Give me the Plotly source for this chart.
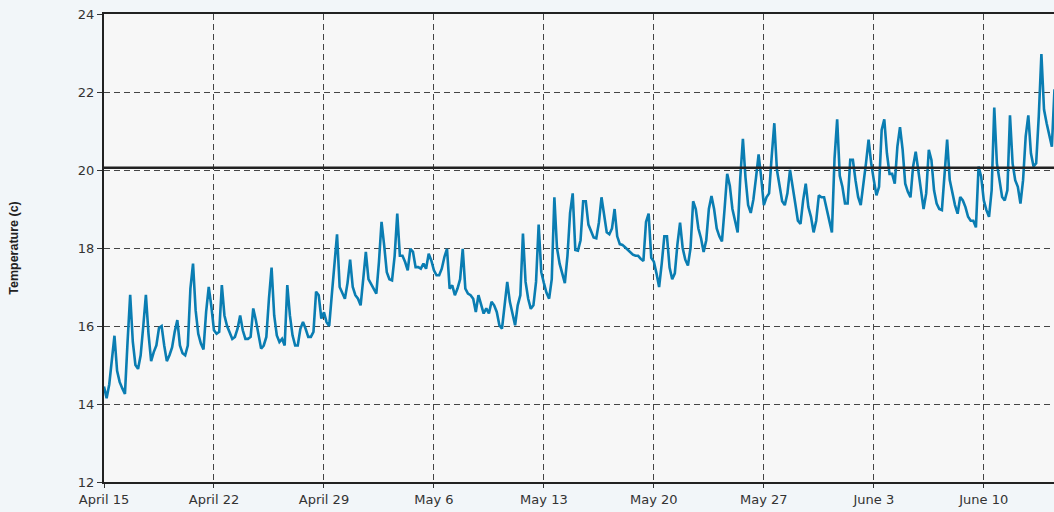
import pandas as pd
import plotly.graph_objects as go

# odczyty co 4 godziny (6 na dobe), od 15 kwietnia
week1 = [14.45, 14.15, 14.5, 15.05, 15.75, 14.85,
         14.56, 14.4, 14.26, 15.6, 16.8, 15.6,
         15.0, 14.9, 15.25, 16.0, 16.8, 15.8,
         15.1, 15.33, 15.5, 15.95, 16.0, 15.5,
         15.1, 15.25, 15.45, 15.85, 16.15, 15.5,
         15.3, 15.25, 15.5, 16.96, 17.6, 16.4,
         15.8, 15.55, 15.4, 16.36, 17.0, 16.5]
week2 = [15.89, 15.8, 15.85, 17.05, 16.27, 16.0,
         15.85, 15.67, 15.72, 15.93, 16.27, 15.89,
         15.67, 15.67, 15.72, 16.45, 16.15, 15.8,
         15.42, 15.5, 15.72, 16.7, 17.5, 16.27,
         15.76, 15.59, 15.67, 15.5, 17.05, 16.27,
         15.76, 15.5, 15.5, 15.93, 16.1, 15.93,
         15.72, 15.72, 15.85, 16.88, 16.79, 16.19]
week3 = [16.35, 16.1, 16.0, 16.8, 17.6, 18.35,
         17.0, 16.83, 16.7, 17.1, 17.7, 17.0,
         16.79, 16.7, 16.53, 17.2, 17.9, 17.2,
         17.08, 16.96, 16.83, 17.64, 18.67, 18.07,
         17.38, 17.2, 17.17, 17.8, 18.88, 17.8,
         17.8, 17.64, 17.43, 17.98, 17.9, 17.51,
         17.51, 17.47, 17.6, 17.47, 17.85, 17.68]
week4 = [17.43, 17.3, 17.3, 17.47, 17.77, 17.98,
         16.96, 17.04, 16.79, 16.96, 17.2, 17.98,
         16.96, 16.83, 16.79, 16.7, 16.36, 16.79,
         16.53, 16.32, 16.45, 16.32, 16.62, 16.53,
         16.36, 16.02, 15.93, 16.53, 17.13, 16.62,
         16.27, 16.02, 16.53, 16.79, 18.37, 17.13,
         16.7, 16.44, 16.53, 17.13, 18.6, 17.38]
week5 = [17.1, 16.85, 16.7, 17.2, 19.3, 18.0,
         17.6, 17.35, 17.1, 17.8, 18.9, 19.4,
         17.95, 17.93, 18.2, 19.2, 19.2, 18.6,
         18.45, 18.27, 18.25, 18.65, 19.3, 18.8,
         18.4, 18.35, 18.5, 19.0, 18.3, 18.1,
         18.08, 18.02, 17.95, 17.88, 17.83, 17.8,
         17.8, 17.72, 17.67, 18.67, 18.88, 17.75]
week6 = [17.65, 17.35, 17.0, 17.6, 18.3, 18.3,
         17.5, 17.2, 17.35, 18.1, 18.65, 18.0,
         17.7, 17.55, 18.0, 19.2, 19.0, 18.5,
         18.25, 17.9, 18.2, 19.0, 19.33, 19.0,
         18.5, 18.3, 18.17, 19.0, 19.9, 19.6,
         19.0, 18.7, 18.4, 19.8, 20.8, 19.8,
         19.1, 18.9, 19.24, 19.8, 20.4, 19.8]
week7 = [19.1, 19.3, 19.4, 20.35, 21.2, 20.0,
         19.6, 19.2, 19.1, 19.4, 20.0, 19.5,
         19.14, 18.7, 18.62, 19.22, 19.65, 19.05,
         18.8, 18.4, 18.7, 19.35, 19.3, 19.3,
         19.0, 18.75, 18.4, 20.3, 21.3, 19.85,
         19.57, 19.14, 19.14, 20.26, 20.26, 19.74,
         19.31, 19.1, 19.57, 20.17, 20.78, 20.17]
week8 = [19.74, 19.35, 19.57, 21.03, 21.3, 20.43,
         19.9, 19.9, 19.65, 20.6, 21.1, 20.52,
         19.65, 19.44, 19.3, 20.09, 20.47, 20.0,
         19.4, 19.0, 19.4, 20.52, 20.26, 19.48,
         19.14, 19.0, 18.97, 19.91, 20.78, 19.74,
         19.4, 19.1, 18.88, 19.31, 19.22, 19.05,
         18.8, 18.7, 18.7, 18.53, 20.09, 19.83]
week9 = [19.22, 18.97, 18.8, 19.48, 21.6, 20.17,
         19.74, 19.31, 19.22, 19.48, 21.4, 20.17,
         19.74, 19.57, 19.14, 19.74, 20.86, 21.4,
         20.43, 20.09, 20.17, 21.38, 22.97, 21.55,
         21.2, 20.86, 20.6, 22.07, 21.6, 21.3]

threshold = 20.06

temps = week1 + week2 + week3 + week4 + week5 + week6 + week7 + week8 + week9
times = pd.date_range('2015-04-15', periods=len(temps), freq='4h')

fig = go.Figure()
fig.add_trace(go.Scatter(x=times, y=temps, mode='lines',
                         line=dict(color='#0a7db2', width=2.6)))

# gruba linia progu
fig.add_shape(type='line', xref='paper', x0=0, x1=1, y0=threshold, y1=threshold,
              line=dict(color='#222222', width=2.5))

fig.update_layout(
    width=1054, height=512,
    margin=dict(l=104, r=0, t=14, b=30),
    paper_bgcolor='#f2f6f9',
    plot_bgcolor='#f7f7f7',
    showlegend=False,
    font=dict(family='DejaVu Sans, sans-serif', size=13, color='#333333'),
)
fig.update_xaxes(
    range=['2015-04-15 00:00', '2015-06-14 11:15'],
    tick0='2015-04-15', dtick=7 * 86400000, tickformat='%B %-d',
    showgrid=True, gridcolor='#444444', gridwidth=1, griddash='6px,4px',
    showline=True, linecolor='#222222', linewidth=2, mirror=True,
    ticks='outside', ticklen=4, tickcolor='#333333',
    zeroline=False,
)
fig.update_yaxes(
    range=[12, 24], dtick=2,
    showgrid=True, gridcolor='#444444', gridwidth=1, griddash='6px,4px',
    showline=True, linecolor='#222222', linewidth=2,
    ticks='outside', ticklen=5, tickcolor='#333333',
    zeroline=False,
    title=dict(text='<b>Temperature (c)</b>',
               font=dict(family='Liberation Sans, Arial, sans-serif', size=12.5, color='#222222'),
               standoff=56),
)

# bez marginesu strony, zeby wykres zaczynal sie w rogu okna
fig.write_html('out.html', config={'displayModeBar': False},
               post_script="document.body.style.margin='0';document.body.style.overflow='hidden';")
